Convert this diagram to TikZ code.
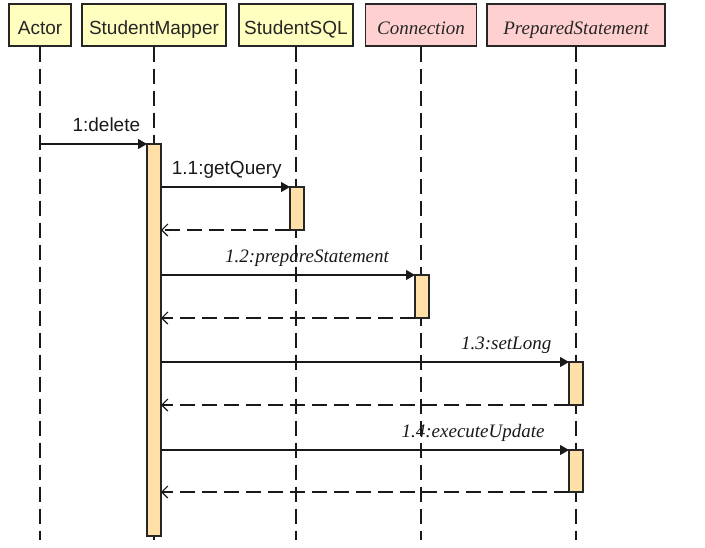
\documentclass[tikz,border=0pt]{standalone}
\usepackage{fontspec}
\setmainfont{Liberation Serif}
\setsansfont{Liberation Sans}
\usetikzlibrary{arrows.meta, positioning}
\definecolor{headyellow}{HTML}{FFFFC0}
\definecolor{headpink}{HTML}{FFD0D0}
\definecolor{barorange}{HTML}{FFE0A6}

\begin{document}
\begin{tikzpicture}[x=1pt, y=-1pt,
    head/.style={draw=black!85, line width=1.3pt, minimum height=42pt, inner sep=0pt, text height=18pt, text depth=0pt, text=black!85},
    bar/.style={draw=black!85, fill=barorange, line width=1.3pt, minimum width=14pt, inner sep=0pt, outer sep=0pt, anchor=north},
    life/.style={black!90, line width=1.3pt, dash pattern=on 15pt off 7pt},
    call/.style={black!90, line width=1.2pt, -{Triangle[length=9pt, width=10pt]}},
    ret/.style={black!90, line width=1.2pt, dash pattern=on 15pt off 7pt, -{Straight Barb[length=6pt, width=12pt]}},
    lbl/.style={anchor=base, yshift=13pt, inner sep=0pt, text=black!90}]
    \useasboundingbox (0,0) rectangle (705,547);

    % Header boxes
    \node[head, fill=headyellow, minimum width=62pt, font=\fontsize{19}{22}\selectfont\sffamily] (actor) at (40,25) {Actor};
    \node[head, fill=headyellow, minimum width=144pt, font=\fontsize{19}{22}\selectfont\sffamily] (mapper) at (154,25) {StudentMapper};
    \node[head, fill=headyellow, minimum width=114pt, font=\fontsize{19}{22}\selectfont\sffamily] (sql) at (296,25) {StudentSQL};
    \node[head, fill=headpink, minimum width=111pt, font=\fontsize{19}{22}\selectfont\itshape] (conn) at (421,25) {Connection};
    \node[head, fill=headpink, minimum width=178pt, font=\fontsize{19}{22}\selectfont\itshape] (stmt) at (576,25) {PreparedStatement};

    % Lifelines
    \coordinate (bottom) at (0,540);
    \foreach \obj in {actor, mapper, sql, conn, stmt}
        \draw[life] (\obj.south) -- (\obj.south |- bottom);

    % Activation bars
    \node[bar, minimum height=392pt] (mapperbar) at (154,144) {};
    \node[bar, minimum height=43pt] (sqlbar) at (297,187) {}; % getQuery
    \node[bar, minimum height=43pt] (connbar) at (422,275) {}; % prepareStatement
    \node[bar, minimum height=43pt] (stmtbar1) at (576,362) {}; % setLong
    \node[bar, minimum height=42pt] (stmtbar2) at (576,450) {}; % executeUpdate

    % Messages
    \draw[call] (actor.south |- mapperbar.north) -- node[lbl, pos=0.62, font=\fontsize{19}{22}\selectfont\sffamily] {1:delete} (mapperbar.north west);
    \draw[call] (mapperbar.east |- sqlbar.north) -- node[lbl, pos=0.51, font=\fontsize{19}{22}\selectfont\sffamily] {1.1:getQuery} (sqlbar.north west);
    \draw[ret] (sqlbar.south west) -- (mapperbar.east |- sqlbar.south);
    \draw[call] (mapperbar.east |- connbar.north) -- node[lbl, pos=0.575, font=\fontsize{19}{22}\selectfont\itshape] {1.2:prepareStatement} (connbar.north west);
    \draw[ret] (connbar.south west) -- (mapperbar.east |- connbar.south);
    \draw[call] (mapperbar.east |- stmtbar1.north) -- node[lbl, pos=0.846, font=\fontsize{19}{22}\selectfont\itshape] {1.3:setLong} (stmtbar1.north west);
    \draw[ret] (stmtbar1.south west) -- (mapperbar.east |- stmtbar1.south);
    \draw[call] (mapperbar.east |- stmtbar2.north) -- node[lbl, pos=0.765, font=\fontsize{19}{22}\selectfont\itshape] {1.4:executeUpdate} (stmtbar2.north west);
    \draw[ret] (stmtbar2.south west) -- (mapperbar.east |- stmtbar2.south);
\end{tikzpicture}
\end{document}
